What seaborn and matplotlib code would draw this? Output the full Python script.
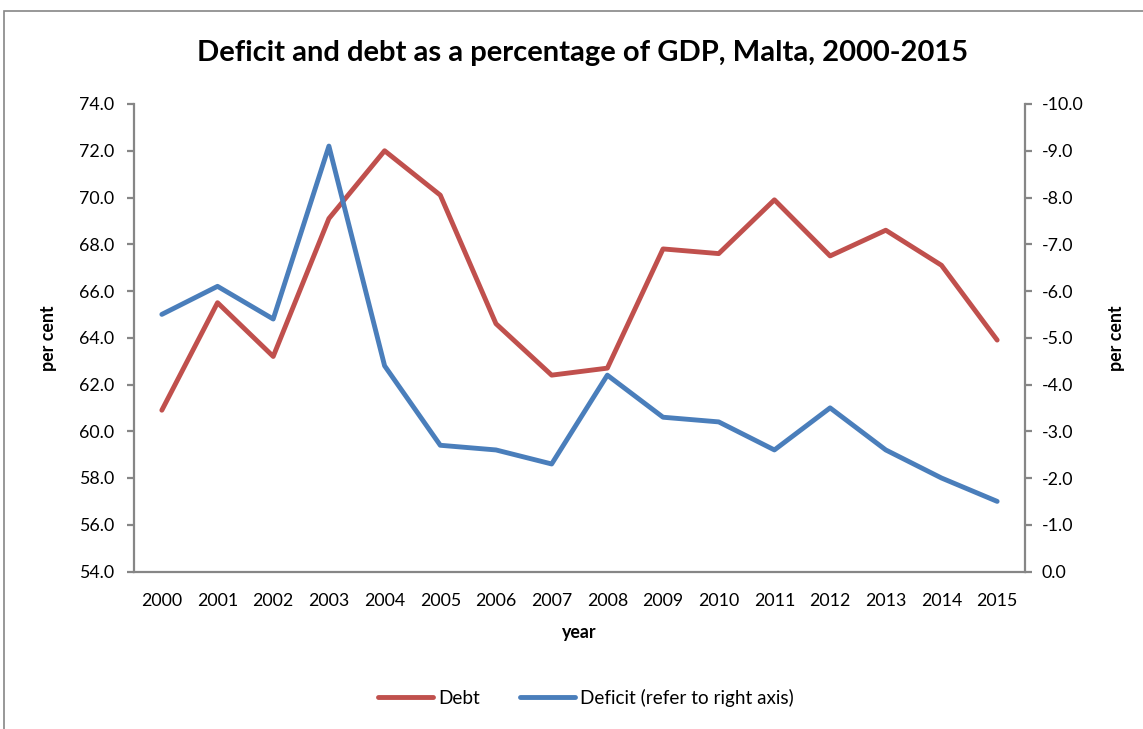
import matplotlib
matplotlib.use("Agg")
import matplotlib.pyplot as plt
from matplotlib.patches import Rectangle
from matplotlib.ticker import FormatStrFormatter
import pandas as pd
import seaborn as sns

# data
years = [str(y) for y in range(2000, 2016)]
debt = [60.9, 65.5, 63.2, 69.1, 72.0, 70.1, 64.6, 62.4,
        62.7, 67.8, 67.6, 69.9, 67.5, 68.6, 67.1, 63.9]
deficit = [-5.5, -6.1, -5.4, -9.1, -4.4, -2.7, -2.6, -2.3,
           -4.2, -3.3, -3.2, -2.6, -3.5, -2.6, -2.0, -1.5]

left_ticks = [54, 56, 58, 60, 62, 64, 66, 68, 70, 72, 74]
right_ticks = [0, -1, -2, -3, -4, -5, -6, -7, -8, -9, -10]

RED = "#C0504D"
BLUE = "#4A7EBB"
AXIS = "#868686"

sns.set_style("white")
plt.rcParams['font.family'] = ['Lato', 'DejaVu Sans']
plt.rcParams['text.color'] = 'black'
plt.rcParams['axes.labelcolor'] = 'black'
plt.rcParams['xtick.color'] = 'black'
plt.rcParams['ytick.color'] = 'black'

df = pd.DataFrame({'year': years, 'debt': debt, 'deficit': deficit})

fig = plt.figure(figsize=(11.43, 7.29), dpi=100)
ax = fig.add_axes([134 / 1143, 1 - 571.5 / 729, (1025 - 134) / 1143, (571.5 - 104) / 729])
ax2 = ax.twinx()

sns.lineplot(data=df, x='year', y='debt', ax=ax, color=RED, linewidth=3.5,
             label='Debt', legend=False, sort=False)
sns.lineplot(data=df, x='year', y='deficit', ax=ax2, color=BLUE, linewidth=3.5,
             label='Deficit (refer to right axis)', legend=False, sort=False)

ax.set_xlim(-0.5, len(years) - 0.5)
ax.set_ylim(54, 74)
ax.set_yticks(left_ticks)
ax.yaxis.set_major_formatter(FormatStrFormatter('%.1f'))
ax2.set_ylim(0, -10)
ax2.set_yticks(right_ticks)
ax2.yaxis.set_major_formatter(FormatStrFormatter('%.1f'))

for a in (ax, ax2):
    a.spines['top'].set_visible(False)
    for side in ('left', 'right', 'bottom'):
        a.spines[side].set_color(AXIS)
        a.spines[side].set_linewidth(1.6)
    a.grid(False)

ax.spines['right'].set_visible(False)
ax2.spines['left'].set_visible(False)
ax2.spines['bottom'].set_visible(False)

ax.tick_params(axis='y', which='both', left=True, length=5, width=1.6,
               color=AXIS, labelcolor='black', labelsize=12.8, pad=9, direction='out')
ax.tick_params(axis='x', bottom=False, labelsize=12.8, pad=12)
ax2.tick_params(axis='y', right=True, length=5, width=1.6, color=AXIS,
                labelcolor='black', labelsize=12.8, pad=7, direction='out')

ax.set_xlabel('year', fontsize=12.8, fontweight='bold', labelpad=11)
ax.set_ylabel('per cent', fontsize=12.8, fontweight='bold', labelpad=16)
ax2.set_ylabel('per cent', fontsize=12.8, fontweight='bold', labelpad=18)

fig.suptitle('Deficit and debt as a percentage of GDP, Malta, 2000-2015',
             x=583 / 1143, y=1 - 53 / 729, va='center', fontsize=21,
             fontweight='bold')

handles = ax.get_lines() + ax2.get_lines()
labels = [h.get_label() for h in handles]
fig.legend(handles, labels, loc='center', bbox_to_anchor=(586 / 1143, 1 - 698 / 729),
           ncol=2, frameon=False, fontsize=13.6, handlelength=2.9,
           handletextpad=0.3, columnspacing=2.1)

# outer chart frame
fig.patches.append(Rectangle((4 / 1143, -0.1), 1.1, (729 - 11) / 729 + 0.1,
                             transform=fig.transFigure, fill=False,
                             edgecolor=AXIS, linewidth=1.2))

fig.savefig('out.png', dpi=100)
